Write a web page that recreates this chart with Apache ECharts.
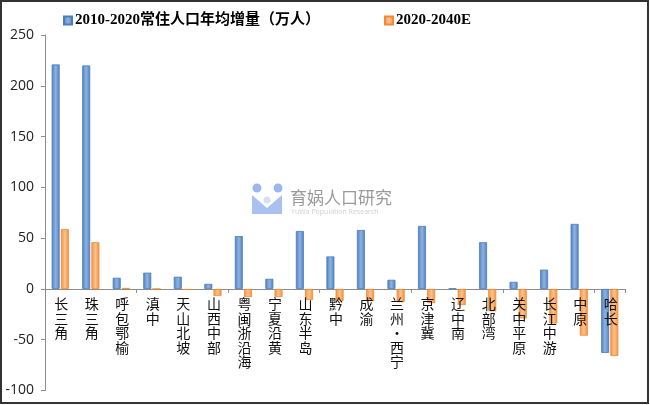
<!DOCTYPE html>
<html>
<head>
<meta charset="utf-8">
<script src="https://cdn.jsdelivr.net/npm/echarts@6/dist/echarts.min.js"></script>
<style>
html,body{margin:0;padding:0;background:#fff;}
#main{width:650px;height:405px;}
</style>
</head>
<body>
<div id="main"></div>
<script>
var categories = ['长三角','珠三角','呼包鄂榆','滇中','天山北坡','山西中部','粤闽浙沿海','宁夏沿黄','山东半岛','黔中','成渝','兰州-西宁','京津冀','辽中南','北部湾','关中平原','长江中游','中原','哈长'];
var seriesNames = ['2010-2020常住人口年均增量（万人）','2020-2040E'];
var growth2010_2020 = [221, 220, 11, 16, 12, 5, 52, 10, 57, 32, 58, 9, 62, 0.5, 46, 7, 19, 64, -63];
var growth2020_2040 = [59, 46, 1, 0, -1, -7, -8, -8, -11, -12, -12, -13, -14, -16, -22, -29, -34, -46, -66];
var yTicks = {min: -100, max: 250, interval: 50};

var chart = echarts.init(document.getElementById('main'), null, {renderer: 'canvas'});

function grad(edge, mid) {
  return new echarts.graphic.LinearGradient(0, 0, 1, 0, [
    {offset: 0, color: edge}, {offset: 0.5, color: mid}, {offset: 1, color: edge}
  ]);
}

var labelData = categories.map(function (c, i) { return [i, 0]; });

var option = {
  backgroundColor: '#fff',
  animation: false,
  legend: {
    left: 58, top: 8,
    itemWidth: 8, itemHeight: 8, itemGap: 64,
    icon: 'rect',
    textStyle: {fontFamily: '"Liberation Serif","Noto Sans CJK SC",serif', fontWeight: 'bold', fontSize: 15, color: '#000', padding: [0,0,0,-2]},
    data: seriesNames
  },
  grid: {left: 45, right: 25, top: 35, bottom: 14.5, containLabel: false, outerBoundsMode: 'none'},
  xAxis: {
    type: 'category',
    data: categories,
    axisLine: {onZero: true, lineStyle: {color: '#8c8c8c', width: 1}},
    axisTick: {show: true, length: 4, lineStyle: {color: '#8c8c8c'}},
    axisLabel: {show: false},
    splitLine: {show: false}
  },
  yAxis: {
    type: 'value',
    min: yTicks.min, max: yTicks.max, interval: yTicks.interval,
    axisLine: {show: true, lineStyle: {color: '#8c8c8c'}},
    axisTick: {show: true, length: 4, lineStyle: {color: '#8c8c8c'}},
    axisLabel: {fontFamily: '"Open Sans","DejaVu Sans",sans-serif', fontSize: 14, color: '#222', margin: 11},
    splitLine: {show: false}
  },
  series: [
    {
      name: seriesNames[0], type: 'bar', data: growth2010_2020,
      barWidth: 8, barGap: '15%',
      itemStyle: {color: grad('#4f7fbf', '#8db3e2'), borderColor: '#4a7ebb', borderWidth: 0.8}
    },
    {
      name: seriesNames[1], type: 'bar', data: growth2020_2040,
      barWidth: 8,
      itemStyle: {color: grad('#f3903c', '#fcc28e'), borderColor: '#f08a34', borderWidth: 0.8}
    },
    {
      name: 'labels', type: 'custom', data: labelData, z: 10, silent: true,
      renderItem: function (params, api) {
        var p = api.coord([api.value(0), api.value(1)]);
        var name = categories[api.value(0)];
        return {
          type: 'text',
          x: p[0] + 1, y: p[1] + 8,
          style: {
            text: name.replace('-', '·').split('').join('\n'),
            align: 'center', verticalAlign: 'top',
            font: '14px "Noto Sans CJK SC",sans-serif',
            lineHeight: 14.5,
            fill: '#111'
          }
        };
      }
    }
  ],
  graphic: [
    {type: 'rect', silent: true, z: 100, shape: {x: 1, y: 1, width: 647, height: 402}, style: {fill: 'none', stroke: '#333', lineWidth: 2}},
    {type: 'group', silent: true, z: -1, children: [
      {type: 'circle', shape: {cx: 257, cy: 188, r: 4.5}, style: {fill: '#9cb7ee'}},
      {type: 'circle', shape: {cx: 278, cy: 188, r: 4.5}, style: {fill: '#9cb7ee'}},
      {type: 'polygon', shape: {points: [[252,195],[267,208],[282,195],[282,214],[252,214]]}, style: {fill: '#a9c0f0'}},
      {type: 'circle', shape: {cx: 267, cy: 200, r: 3.5}, style: {fill: '#d5e0f8'}},
      {type: 'text', style: {x: 290, y: 198, text: '育娲人口研究', fill: '#9a9a9a', font: '17px "Noto Sans CJK SC",sans-serif', verticalAlign: 'middle'}},
      {type: 'text', style: {x: 291, y: 212, text: 'YuWa Population Research', fill: '#cfcfcf', font: '7px "Open Sans",sans-serif', verticalAlign: 'middle'}}
    ]}
  ]
};
chart.setOption(option);
</script>
</body>
</html>
